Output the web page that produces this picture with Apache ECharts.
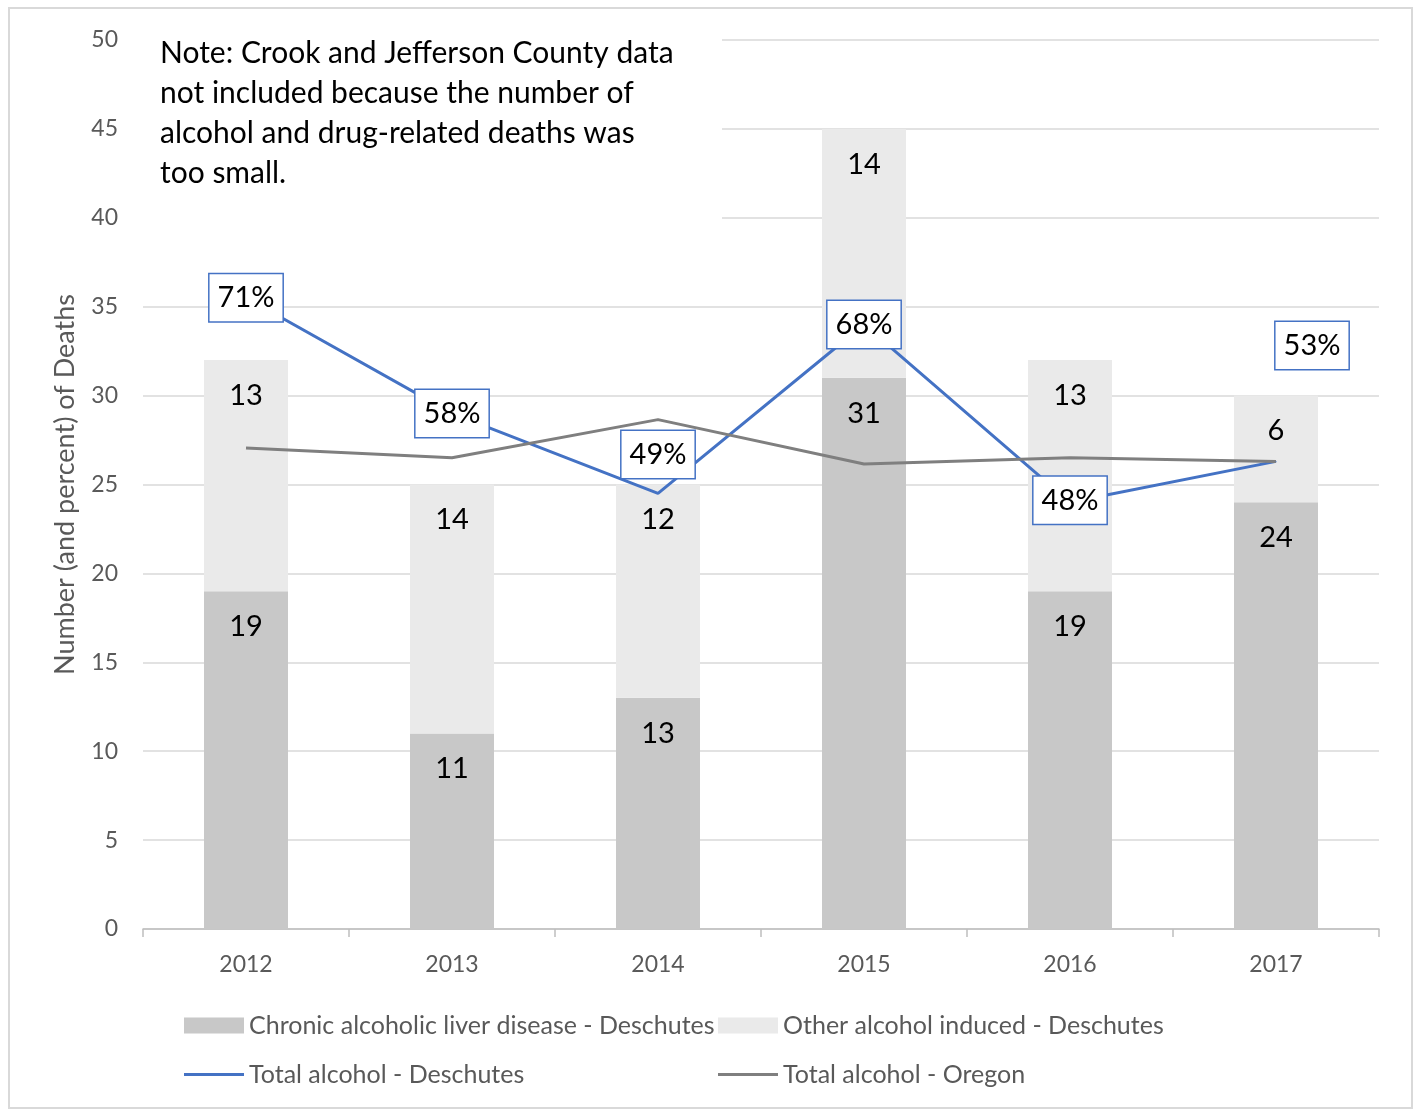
<!DOCTYPE html>
<html>
<head>
<meta charset="utf-8">
<script src="https://cdn.jsdelivr.net/npm/echarts@6/dist/echarts.min.js"></script>
<style>
html,body{margin:0;padding:0;background:#fff;}
#chart{width:1419px;height:1111px;}
</style>
</head>
<body>
<div id="chart"></div>
<script>
// ---- data ----
var years = ['2012', '2013', '2014', '2015', '2016', '2017'];
var chronicDeschutes = [19, 11, 13, 31, 19, 24];
var otherDeschutes = [13, 14, 12, 14, 13, 6];
var totalDeschutesPct = [71, 58, 49, 68, 48, 52.6];
var totalOregonPct = [54.1, 53, 57.3, 52.3, 53, 52.6];
var yTicks = [0, 5, 10, 15, 20, 25, 30, 35, 40, 45, 50];

var seriesNames = [
  'Chronic alcoholic liver disease - Deschutes',
  'Other alcohol induced - Deschutes',
  'Total alcohol - Deschutes',
  'Total alcohol - Oregon'
];
var noteLines = [
  'Note: Crook and Jefferson County data',
  'not included because the number of',
  'alcohol and drug-related deaths was',
  'too small.'
];

// label offsets for the percent boxes (styling, kept separate from data)
var pctLabelOffsets = [[0, 0], [0, 0], [0, -39], [0, 0], [0, -2], [36, -116]];

var FONT = 'Lato';
var AXIS_TEXT = '#595959';
var BLUE = '#4472C4';
var GRAY_LINE = '#7F7F7F';
var BAR_DARK = '#C8C8C8';
var BAR_LIGHT = '#EAEAEA';

var deschutesData = totalDeschutesPct.map(function (v, i) {
  return { value: v, label: { offset: pctLabelOffsets[i] } };
});

var barLabel = {
  show: true,
  position: 'insideTop',
  distance: 21,
  color: '#000',
  fontSize: 29,
  fontFamily: FONT
};

function legendItem(name, left, top, h) {
  return {
    data: [name], left: left, top: top, icon: 'rect', padding: 0,
    itemWidth: 60, itemHeight: h,
    textStyle: { color: AXIS_TEXT, fontSize: 25, fontFamily: FONT }
  };
}

var chart = echarts.init(document.getElementById('chart'), null, { renderer: 'canvas' });

var option = {
  animation: false,
  backgroundColor: '#fff',
  textStyle: { fontFamily: FONT },
  grid: { left: 143, right: 40, top: 40, bottom: 182, containLabel: false },
  xAxis: {
    type: 'category',
    data: years,
    axisLine: { show: true, lineStyle: { color: '#BFBFBF', width: 1.5 } },
    axisTick: { show: true, alignWithLabel: false, length: 8, lineStyle: { color: '#BFBFBF', width: 1.5 } },
    axisLabel: { color: AXIS_TEXT, fontSize: 23, fontFamily: FONT, margin: 24 }
  },
  yAxis: [
    {
      type: 'value',
      min: yTicks[0],
      max: yTicks[yTicks.length - 1],
      interval: 5,
      name: 'Number (and percent) of Deaths',
      nameLocation: 'middle',
      nameGap: 64,
      nameTextStyle: { color: AXIS_TEXT, fontSize: 27, fontFamily: FONT },
      axisLine: { show: false },
      axisTick: { show: false },
      axisLabel: { color: AXIS_TEXT, fontSize: 23, fontFamily: FONT, margin: 25 },
      splitLine: { show: true, lineStyle: { color: '#D9D9D9', width: 1.5 } }
    },
    {
      type: 'value',
      min: 0,
      max: 100,
      show: false,
      splitLine: { show: false }
    }
  ],
  legend: [
    legendItem(seriesNames[0], 184, 1013, 16),
    legendItem(seriesNames[1], 718, 1013, 16),
    legendItem(seriesNames[2], 184, 1062, 3),
    legendItem(seriesNames[3], 718, 1062, 3)
  ],
  graphic: [
    {
      type: 'rect', z: 1, silent: true,
      shape: { x: 9, y: 8, width: 1403, height: 1100 },
      style: { fill: 'none', stroke: '#D9D9D9', lineWidth: 2 }
    },
    {
      type: 'rect', z: 1, silent: true,
      shape: { x: 143, y: 28, width: 579, height: 200 },
      style: { fill: '#fff' }
    },
    {
      type: 'text', z: 2, silent: true,
      x: 160, y: 33,
      style: {
        text: noteLines.join('\n'),
        fill: '#000',
        font: '30px ' + FONT,
        lineHeight: 40,
        verticalAlign: 'top',
        align: 'left'
      }
    }
  ],
  series: [
    {
      name: seriesNames[0],
      type: 'bar',
      stack: 'deaths',
      data: chronicDeschutes,
      barWidth: 84,
      itemStyle: { color: BAR_DARK },
      label: barLabel
    },
    {
      name: seriesNames[1],
      type: 'bar',
      stack: 'deaths',
      data: otherDeschutes,
      barWidth: 84,
      itemStyle: { color: BAR_LIGHT },
      label: barLabel
    },
    {
      name: seriesNames[2],
      type: 'line',
      yAxisIndex: 1,
      data: deschutesData,
      symbol: 'circle',
      symbolSize: 1,
      showSymbol: true,
      lineStyle: { color: BLUE, width: 3 },
      itemStyle: { color: BLUE },
      z: 3,
      label: {
        show: true,
        position: 'inside',
        formatter: function (p) { return Math.round(p.value) + '%'; },
        color: '#000',
        fontSize: 29,
        fontFamily: FONT,
        lineHeight: 30,
        backgroundColor: '#fff',
        borderColor: BLUE,
        borderWidth: 1.5,
        padding: [9, 8, 8, 8]
      }
    },
    {
      name: seriesNames[3],
      type: 'line',
      yAxisIndex: 1,
      data: totalOregonPct,
      symbol: 'none',
      lineStyle: { color: GRAY_LINE, width: 3 },
      itemStyle: { color: GRAY_LINE },
      z: 3
    }
  ]
};

chart.setOption(option);
</script>
</body>
</html>
